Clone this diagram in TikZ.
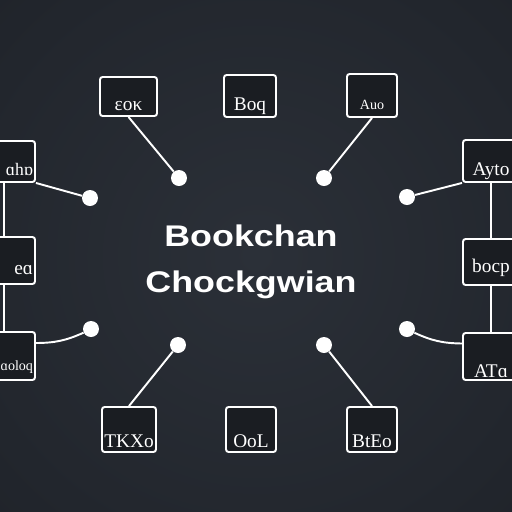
\documentclass[tikz,border=0pt]{standalone}
\usepackage{fontspec}
\setmainfont{Liberation Serif}
\newfontfamily\titlefont[FakeStretch=1.2]{Liberation Sans}
\usetikzlibrary{positioning}
\definecolor{bgin}{HTML}{2B3038}
\definecolor{bgmid}{HTML}{22262D}
\definecolor{bgout}{HTML}{15181C}
\definecolor{boxfill}{HTML}{1A1D22}
\pgfdeclareradialshading{bgglow}{\pgfpoint{0bp}{0bp}}{color(0bp)=(bgin); color(30bp)=(bgmid); color(72bp)=(bgout)}
\tikzstyle{glyphbox} = [rectangle, rounded corners=1.5pt, draw=white, line width=1.1pt, fill=boxfill, minimum width=1.04cm, minimum height=0.84cm, inner sep=1pt, text=white, font=\fontsize{11}{12}\selectfont, text height=0.56cm, text depth=0pt]
\tikzstyle{edgebox} = [glyphbox, minimum width=1.24cm, text width=1.16cm, inner xsep=0pt, align=right]
\tikzstyle{hub} = [circle, fill=white, minimum size=0.32cm, inner sep=0pt]
\tikzstyle{link} = [white, line width=1.1pt]

\begin{document}
\begin{tikzpicture}[x=0.02cm, y=-0.02cm]

\fill[shading=bgglow] (0,0) rectangle (512,512);
\useasboundingbox (0,0) rectangle (512,512);

\node (title) at (251,262) [font=\titlefont\bfseries\fontsize{17}{26}\selectfont, align=center, text=white] {Bookchan\\Chockgwian};

\node (top1) at (128.5,96.5) [glyphbox, minimum width=1.14cm, minimum height=0.78cm] {εoκ};
\node (top2) at (250,96) [glyphbox] {Boq};
\node (top3) at (372,95.5) [glyphbox, minimum width=1.0cm, minimum height=0.86cm, font=\fontsize{8}{9}\selectfont] {Auo};
\node (left1) at (4,161.5) [edgebox, minimum height=0.82cm, font=\fontsize{10}{11}\selectfont] {ɑhɒ};
\node (left2) at (4,260.5) [edgebox, minimum height=0.94cm] {eɑ};
\node (left3) at (4,356) [edgebox, minimum height=0.96cm, font=\fontsize{8}{9}\selectfont] {ɑoloq};
\node (right1) at (491,161) [glyphbox, minimum width=1.12cm] {Ayto};
\node (right2) at (491,262) [glyphbox, minimum width=1.12cm, minimum height=0.92cm, text height=0.42cm] {bocp};
\node (right3) at (491,356.5) [glyphbox, minimum width=1.12cm, minimum height=0.94cm, text height=0.84cm] {ATɑ};
\node (bot1) at (129,429.5) [glyphbox, minimum width=1.08cm, minimum height=0.9cm, text height=0.72cm] {TKXo};
\node (bot2) at (251,429.5) [glyphbox, minimum width=1.0cm, minimum height=0.9cm, text height=0.72cm] {OoL};
\node (bot3) at (372,429.5) [glyphbox, minimum width=1.0cm, minimum height=0.9cm, text height=0.72cm] {BtEo};

\node (hubtl) at (179,178) [hub] {};
\node (hubtr) at (324,178) [hub] {};
\node (hubl1) at (90,198) [hub] {};
\node (hubr1) at (407,197) [hub] {};
\node (hubl2) at (91,329) [hub] {};
\node (hubr2) at (407,329) [hub] {};
\node (hubbl) at (178,345) [hub] {};
\node (hubbr) at (324,345) [hub] {};

\draw [link] (top1.south) -- (hubtl);
\draw [link] (top3.south) -- (hubtr);
\draw [link] (left1.south east) -- (hubl1);
\draw [link] (hubr1) -- (right1.south west);
\draw [link] ([yshift=0.26cm]left3.east) to[bend right=12] (hubl2);
\draw [link] (hubr2) to[bend right=12] ([yshift=0.26cm]right3.west);
\draw [link] (hubbl) -- (bot1.north);
\draw [link] (hubbr) -- (bot3.north);
\draw [link] (left1) -- (left2);
\draw [link] (left2) -- (left3);
\draw [link] (right1) -- (right2);
\draw [link] (right2) -- (right3);

\end{tikzpicture}
\end{document}
